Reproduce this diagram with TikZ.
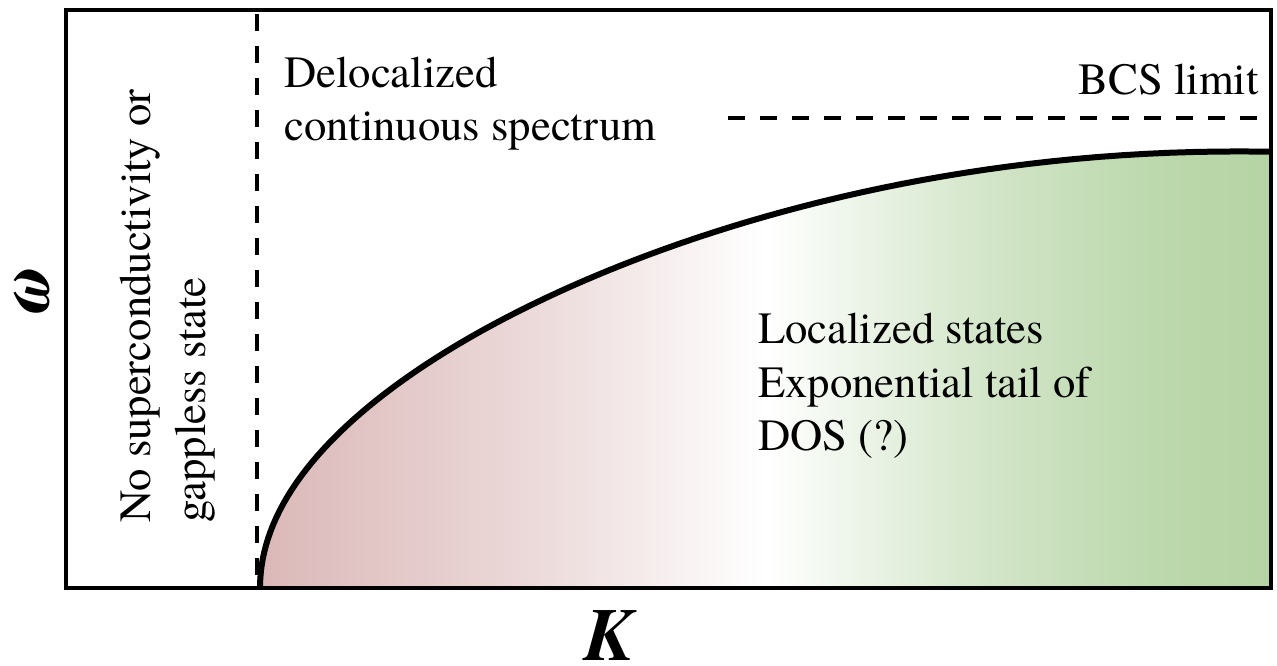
\documentclass[tikz,border=0pt]{standalone}
\usepackage{fontspec}
\setmainfont{texgyretermes}[Extension=.otf, UprightFont=*-regular, BoldFont=*-bold, ItalicFont=*-italic, BoldItalicFont=*-bolditalic]
\newfontfamily\timesface{texgyretermes}[Extension=.otf, UprightFont=*-regular, BoldFont=*-bold, ItalicFont=*-italic, BoldItalicFont=*-bolditalic]
\usepackage{tikz}

\definecolor{gaplesspink}{RGB}{219,184,184}
\definecolor{bcsgreen}{RGB}{181,212,164}
\colorlet{pinkfade}{gaplesspink!55!white}
\colorlet{greenfade}{bcsgreen!60!white}
\colorlet{greenmid}{bcsgreen!90!white}
\pgfdeclarehorizontalshading{dosshade}{100bp}{color(0bp)=(gaplesspink); color(25bp)=(gaplesspink); color(38bp)=(pinkfade); color(50bp)=(white); color(61bp)=(greenfade); color(69bp)=(greenmid); color(75bp)=(bcsgreen); color(100bp)=(bcsgreen)}

\begin{document}
\begin{tikzpicture}[
    x=0.75pt, y=-0.75pt,
    frame/.style={line width=3pt},
    divider/.style={line width=2.8pt, dash pattern=on 12.75pt off 11.25pt},
    gapedge/.style={line width=4.5pt},
    lbl/.style={font=\timesface\fontsize{33.5}{40}\selectfont, inner sep=0pt},
    axislbl/.style={font=\timesface\fontsize{56}{60}\selectfont\bfseries\itshape, inner sep=0pt}
]
\useasboundingbox (0,0) rectangle (1277,665);

\coordinate (sw) at (66,588);
\coordinate (ne) at (1271,10);
\coordinate (gaptop) at (257,14);
\coordinate (gapbot) at (257,588);
\coordinate (bcsL) at (728,118);
\coordinate (bcsR) at (1271,118);

% region below the gap edge, x = 260 + 1011 s^2
\shade[shading=dosshade] plot[domain=0:1, samples=80, variable=\s]
    ({260+1011*\s*\s}, {588-555*\s*(1-0.214*\s*\s*\s*\s)}) -- (1271,588) -- cycle;
\draw[gapedge] plot[domain=0:1, samples=80, variable=\s]
    ({260+1011*\s*\s}, {588-555*\s*(1-0.214*\s*\s*\s*\s)});

\draw[divider] (gaptop) -- (gapbot);
\draw[divider] (bcsL) -- (bcsR);
\draw[frame] (sw) rectangle (ne);

\node[lbl, anchor=base west] (deloc1) at (284,87) {Delocalized};
\node[lbl, anchor=base west] (deloc2) at (284,140) {continuous spectrum};
\node[lbl, anchor=base east] (bcs) at (1259,94) {BCS limit};
\node[lbl, anchor=base west] (loc1) at (758,343) {Localized states};
\node[lbl, anchor=base west] (loc2) at (758,397) {Exponential tail of};
\node[lbl, anchor=base west] (loc3) at (758,450) {DOS (?)};
\node[lbl, rotate=90, anchor=base west] (nosc1) at (150,523) {No superconductivity or};
\node[lbl, rotate=90, anchor=base west] (nosc2) at (205,523) {gappless state};

\node[axislbl, rotate=90] (omega) at (32,296) {ω};
\node[axislbl, anchor=base] (kay) at (609,660) {K};
\end{tikzpicture}
\end{document}
